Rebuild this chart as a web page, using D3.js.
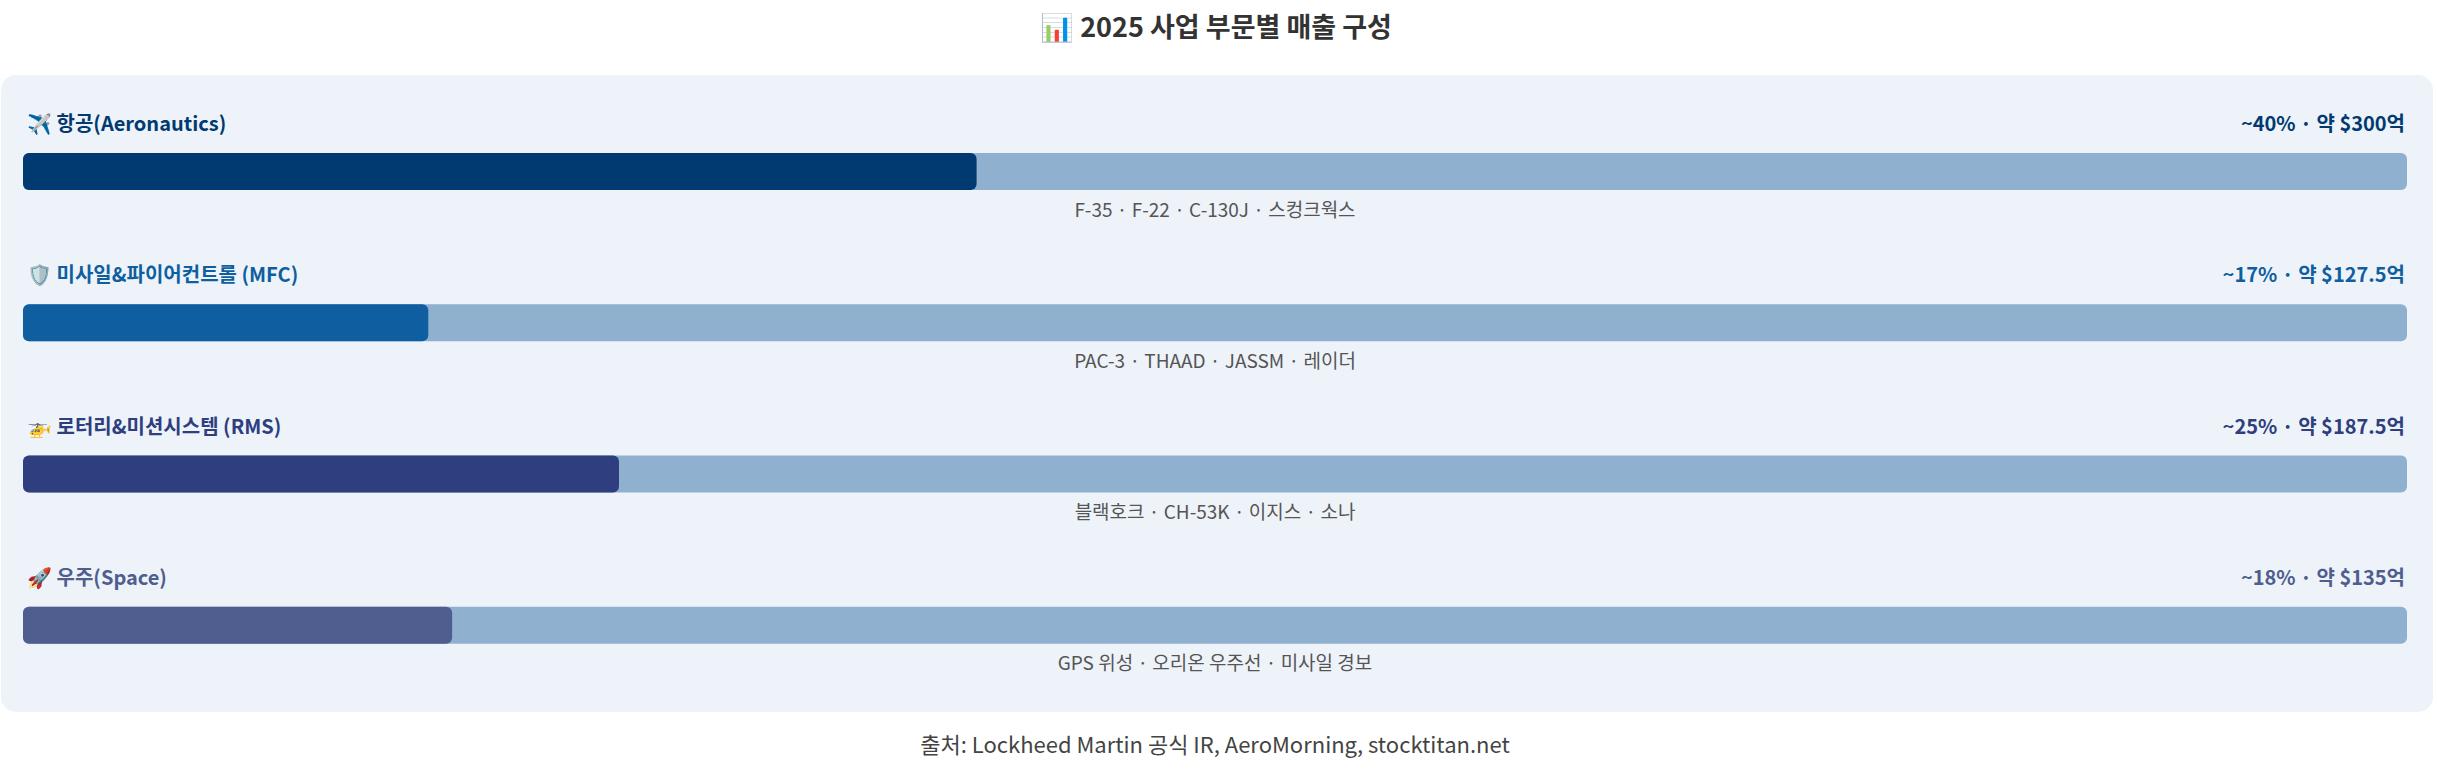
<!DOCTYPE html>
<html>
<head>
<meta charset="utf-8">
<script src="https://cdn.jsdelivr.net/npm/d3@7"></script>
<style>
  body { margin: 0; background: #fff; }
  svg { display: block; font-family: "Noto Sans CJK KR", "Noto Sans", sans-serif; }
</style>
</head>
<body>
<div id="container"></div>
<script>
// chart data
const segments = ["항공(Aeronautics)", "미사일&파이어컨트롤 (MFC)", "로터리&미션시스템 (RMS)", "우주(Space)"];
const icons = ["✈️", "🛡️", "🚁", "🚀"];
const shares = [40, 17, 25, 18];
const valueLabels = ["~40% · 약 $300억", "~17% · 약 $127.5억", "~25% · 약 $187.5억", "~18% · 약 $135억"];
const programs = ["F-35 · F-22 · C-130J · 스컹크웍스", "PAC-3 · THAAD · JASSM · 레이더", "블랙호크 · CH-53K · 이지스 · 소나", "GPS 위성 · 오리온 우주선 · 미사일 경보"];
const colors = ["#003a70", "#0f5fa0", "#2f3e7e", "#4f5e8e"];

const width = 2437;
const height = 774;
const panel = { left: 1, right: 2433, top: 75, bottom: 712 };

const svg = d3.select("#container")
    .append("svg")
    .attr("width", width)
    .attr("height", height);

// Title
svg.append("text")
    .attr("x", 1216)
    .attr("y", 28)
    .attr("dy", "0.35em")
    .attr("text-anchor", "middle")
    .attr("font-size", 27)
    .attr("font-weight", 700)
    .attr("fill", "#333")
    .text("📊 2025 사업 부문별 매출 구성");

// background panel
svg.append("rect")
    .attr("x", panel.left)
    .attr("y", panel.top)
    .attr("width", panel.right - panel.left)
    .attr("height", panel.bottom - panel.top)
    .attr("rx", 15)
    .attr("fill", "#eef3fa");

// scales
const x = d3.scaleLinear()
    .domain([0, 100])
    .range([23, 2407]);

const y = d3.scaleBand()
    .domain(segments)
    .range([101, 706]);

const rows = svg.append("g")
    .selectAll("g")
    .data(segments)
    .join("g")
    .attr("transform", d => `translate(0,${y(d)})`);

// label with icon
rows.append("text")
    .attr("x", 27)
    .attr("y", 23)
    .attr("dy", "0.35em")
    .attr("font-size", 20)
    .attr("font-weight", 600)
    .attr("fill", (d, i) => colors[i])
    .text((d, i) => icons[i] + " " + d);

// value text on the right
rows.append("text")
    .attr("x", x(100) - 2)
    .attr("y", 23)
    .attr("dy", "0.35em")
    .attr("text-anchor", "end")
    .attr("font-size", 20)
    .attr("font-weight", 600)
    .attr("fill", (d, i) => colors[i])
    .text((d, i) => valueLabels[i]);

// track
rows.append("rect")
    .attr("x", x(0))
    .attr("y", 52)
    .attr("width", x(100) - x(0))
    .attr("height", 37)
    .attr("rx", 6)
    .attr("fill", "#8fb0cf");

// filled part
rows.append("rect")
    .attr("x", x(0))
    .attr("y", 52)
    .attr("width", (d, i) => x(shares[i]) - x(0))
    .attr("height", 37)
    .attr("rx", 6)
    .attr("fill", (d, i) => colors[i]);

// program list under the bar
rows.append("text")
    .attr("x", 1215)
    .attr("y", 109)
    .attr("dy", "0.35em")
    .attr("text-anchor", "middle")
    .attr("font-size", 19)
    .attr("fill", "#555")
    .text((d, i) => programs[i]);

// footer
svg.append("text")
    .attr("x", 1215)
    .attr("y", 745)
    .attr("dy", "0.35em")
    .attr("text-anchor", "middle")
    .attr("font-size", 22)
    .attr("fill", "#444")
    .text("출처: Lockheed Martin 공식 IR, AeroMorning, stocktitan.net");
</script>
</body>
</html>
